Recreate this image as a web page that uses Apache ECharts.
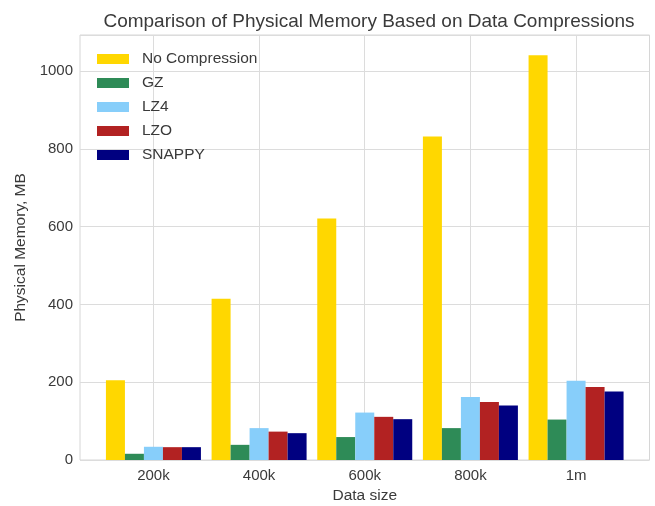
<!DOCTYPE html>
<html>
<head>
<meta charset="utf-8">
<script src="https://cdn.jsdelivr.net/npm/echarts@6/dist/echarts.min.js"></script>
<style>
  html, body { margin: 0; padding: 0; background: #fff; }
  #chart { width: 655px; height: 506px; }
</style>
</head>
<body>
<div id="chart"></div>
<script>
// data
const dataSizes = ['200k', '400k', '600k', '800k', '1m'];
const noCompression = [205, 415, 621, 832, 1041];
const gz = [16, 39, 59, 82, 104];
const lz4 = [34, 82, 122, 162, 204];
const lzo = [33, 73, 111, 149, 188];
const snappy = [33, 69, 105, 140, 176];
const yTicks = [0, 200, 400, 600, 800, 1000];

const font = 'Liberation Sans, Arial, sans-serif';
const textColor = '#3a3a3a';

function pairs(values) {
  return values.map((v, i) => [i, v]);
}

function barSeries(name, values, color) {
  return {
    name: name,
    type: 'bar',
    data: pairs(values),
    barWidth: 19,
    barGap: '0%',
    itemStyle: { color: color },
    emphasis: { disabled: true }
  };
}

const chart = echarts.init(document.getElementById('chart'), null, { renderer: 'canvas' });

chart.setOption({
  animation: false,
  backgroundColor: '#ffffff',
  title: {
    text: 'Comparison of Physical Memory Based on Data Compressions',
    left: 364,
    textAlign: 'center',
    top: 7,
    textStyle: { fontFamily: font, fontSize: 19, fontWeight: 'normal', color: textColor }
  },
  legend: {
    orient: 'vertical',
    left: 92,
    top: 46,
    itemWidth: 32,
    itemHeight: 10,
    itemGap: 8,
    icon: 'rect',
    textStyle: { fontFamily: font, fontSize: 15.5, color: textColor, padding: [0, 0, 0, 8] },
    data: ['No Compression', 'GZ', 'LZ4', 'LZO', 'SNAPPY']
  },
  grid: {
    left: 80,
    right: 5.5,
    top: 35,
    bottom: 46,
    outerBoundsMode: 'none',
    show: true,
    borderColor: '#d6d6d6',
    borderWidth: 1
  },
  xAxis: {
    type: 'value',
    min: -0.695,
    max: 4.695,
    name: 'Data size',
    nameLocation: 'middle',
    nameGap: 26,
    nameTextStyle: { fontFamily: font, fontSize: 15.5, color: textColor },
    axisLine: { show: false },
    axisTick: { show: false, customValues: [0, 1, 2, 3, 4] },
    axisLabel: {
      customValues: [0, 1, 2, 3, 4],
      formatter: v => dataSizes[Math.round(v)],
      fontFamily: font, fontSize: 15, color: textColor, margin: 8
    },
    splitLine: { show: true, lineStyle: { color: '#dcdcdc', width: 1 } }
  },
  yAxis: {
    type: 'value',
    min: 0,
    max: 1093,
    interval: 200,
    name: 'Physical Memory, MB',
    nameLocation: 'middle',
    nameGap: 48,
    nameTextStyle: { fontFamily: font, fontSize: 15.5, color: textColor },
    axisLine: { show: false },
    axisTick: { show: false },
    axisLabel: {
      showMaxLabel: false,
      fontFamily: font, fontSize: 15, color: textColor, margin: 7,
      formatter: v => (yTicks.indexOf(v) >= 0 ? String(v) : '')
    },
    splitLine: { show: true, lineStyle: { color: '#dcdcdc', width: 1 } }
  },
  series: [
    barSeries('No Compression', noCompression, '#FFD700'),
    barSeries('GZ', gz, '#2E8B57'),
    barSeries('LZ4', lz4, '#87CEFA'),
    barSeries('LZO', lzo, '#B22222'),
    barSeries('SNAPPY', snappy, '#000080')
  ]
});
</script>
</body>
</html>
